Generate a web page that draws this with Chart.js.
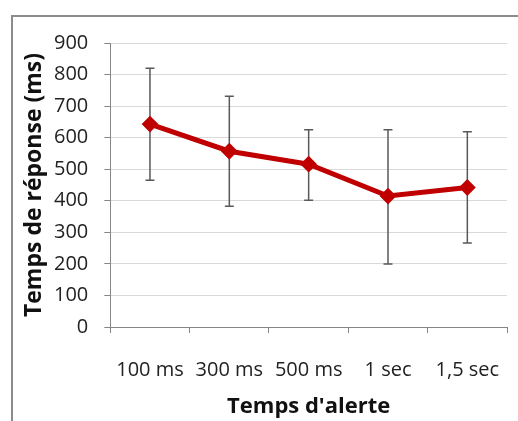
<!DOCTYPE html>
<html>
<head>
<meta charset="utf-8">
<script src="https://cdn.jsdelivr.net/npm/chart.js@4"></script>
<style>
  html, body { margin: 0; padding: 0; background: #fff; }
  #wrap { position: relative; width: 518px; height: 421px; overflow: hidden; }
  #frame { position: absolute; left: 11px; top: 15px; right: -10px; bottom: -10px;
           border-left: 2px solid #8c8c8c; border-top: 2px solid #8c8c8c; }
  canvas { position: absolute; left: 0; top: 0; }
</style>
</head>
<body>
<div id="wrap">
  <div id="frame"></div>
  <canvas id="c" width="518" height="421"></canvas>
</div>
<script>
const categories = ["100 ms", "300 ms", "500 ms", "1 sec", "1,5 sec"];
const meanValues = [643, 557, 516, 415, 442];
const errorUpper = [820, 731, 625, 625, 619];
const errorLower = [465, 383, 402, 200, 266];
const yTicks = [0, 100, 200, 300, 400, 500, 600, 700, 800, 900];
const xTitle = "Temps d'alerte";
const yTitle = "Temps de réponse (ms)";

const errorBars = {
  id: 'errorBars',
  beforeDatasetsDraw(chart) {
    const ctx = chart.ctx;
    const xs = chart.scales.x, ys = chart.scales.y;
    ctx.save();
    ctx.strokeStyle = '#595959';
    ctx.lineWidth = 1.5;
    const cap = 4.5;
    categories.forEach((c, i) => {
      const x = xs.getPixelForValue(i);
      const yt = ys.getPixelForValue(errorUpper[i]);
      const yb = ys.getPixelForValue(errorLower[i]);
      ctx.beginPath();
      ctx.moveTo(x, yt); ctx.lineTo(x, yb);
      ctx.moveTo(x - cap, yt); ctx.lineTo(x + cap, yt);
      ctx.moveTo(x - cap, yb); ctx.lineTo(x + cap, yb);
      ctx.stroke();
    });
    ctx.restore();
  }
};

new Chart(document.getElementById('c'), {
  type: 'line',
  data: {
    labels: categories,
    datasets: [{
      data: meanValues,
      borderColor: '#C00000',
      backgroundColor: '#C00000',
      borderWidth: 5,
      pointStyle: 'rectRot',
      pointRadius: 7,
      pointBorderWidth: 2,
      pointBorderColor: '#C00000',
      pointBackgroundColor: '#C00000',
      tension: 0,
      fill: false
    }]
  },
  options: {
    responsive: false,
    animation: false,
    plugins: { legend: { display: false }, tooltip: { enabled: false } },
    layout: { padding: { left: 23, top: 43, right: 11, bottom: 0 } },
    scales: {
      x: {
        type: 'category',
        offset: true,
        grid: { display: true, drawOnChartArea: false, drawTicks: true, tickLength: 6, color: '#868686', offset: true },
        border: { display: true, color: '#868686', width: 1 },
        ticks: { color: '#222', padding: 5, font: { family: 'Open Sans', size: 20, lineHeight: 3.2 }, maxRotation: 0, autoSkip: false },
        title: { display: true, text: xTitle, color: '#111', font: { family: 'Open Sans', size: 22, weight: 'bold', lineHeight: 1 }, padding: { top: -11, bottom: 3 } }
      },
      y: {
        min: 0, max: 900,
        afterBuildTicks: (s) => { s.ticks = yTicks.map(v => ({ value: v })); },
        grid: { color: '#d9d9d9', lineWidth: 1, drawTicks: true, tickLength: 6, tickColor: '#868686' },
        border: { display: true, color: '#868686', width: 1 },
        ticks: { color: '#222', padding: 16, font: { family: 'Open Sans', size: 20 } },
        title: { display: true, text: yTitle, color: '#111', font: { family: 'Open Sans', size: 23, weight: 'bold', lineHeight: 1 }, padding: { top: 0, bottom: -8 } }
      }
    }
  },
  plugins: [errorBars]
});
</script>
</body>
</html>
